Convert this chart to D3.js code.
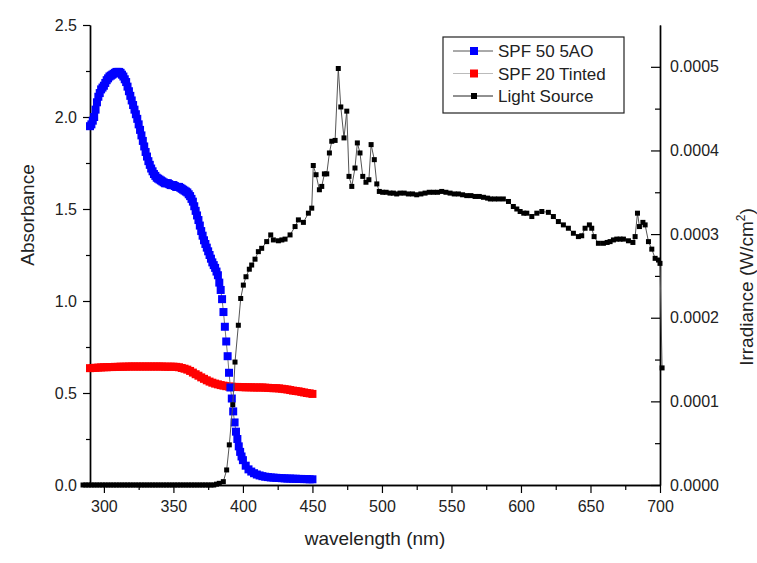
<!DOCTYPE html>
<html>
<head>
<meta charset="utf-8">
<script src="https://cdn.jsdelivr.net/npm/d3@7/dist/d3.min.js"></script>
<style>
    body { margin: 0; background: #fff; }
    text { font-family: "Liberation Sans", Arial, sans-serif; fill: #222; }
</style>
</head>
<body>
<div id="chart"></div>
<script>
// SPF 50 5AO (blue) - absorbance
const spf50Wavelength = [290,291,292,293,294,295,296,297,298,299,300,301,302,303,304,305,306,307,308,309,
    310,311,312,313,314,315,316,317,318,319,320,321,322,323,324,325,326,327,328,329,
    330,331,332,333,334,335,336,337,338,339,340,341,342,343,344,345,346,347,348,349,
    350,351,352,353,354,355,356,357,358,359,360,361,362,363,364,365,366,367,368,369,
    370,371,372,373,374,375,376,377,378,379,380,381,382,383,384,385,386,387,388,389,
    390,391,392,393,394,395,396,397,398,399,400,
    402,404,406,408,410,412,414,416,418,420,422,424,426,428,430,432,434,436,438,440,442,444,446,448,450];
const spf50Absorbance = [1.95,1.96,1.98,2.00,2.04,2.08,2.11,2.13,2.15,2.16,2.17,2.185,2.20,2.21,2.22,2.225,2.23,2.235,2.24,2.245,
    2.245,2.245,2.24,2.23,2.22,2.205,2.19,2.165,2.14,2.115,2.09,2.065,2.04,2.015,1.99,1.96,1.93,1.90,1.87,1.84,
    1.81,1.785,1.76,1.74,1.72,1.705,1.69,1.68,1.67,1.665,1.66,1.655,1.65,1.645,1.64,1.64,1.64,1.635,1.63,1.63,
    1.63,1.625,1.62,1.62,1.62,1.615,1.61,1.605,1.60,1.595,1.59,1.58,1.57,1.555,1.54,1.515,1.49,1.465,1.44,1.41,
    1.38,1.355,1.33,1.31,1.29,1.27,1.25,1.23,1.21,1.195,1.18,1.16,1.14,1.10,1.06,1.01,0.94,0.86,0.78,0.70,
    0.61,0.53,0.47,0.40,0.34,0.29,0.25,0.21,0.18,0.155,0.135,
    0.105,0.085,0.073,0.064,0.057,0.052,0.048,0.045,0.043,0.041,0.040,0.039,0.038,0.037,0.036,0.035,0.035,0.034,0.034,0.033,0.033,0.032,0.032,0.031,0.031];

// SPF 20 Tinted (red) - absorbance
const spf20Wavelength = [290,292,294,296,298,300,302,304,306,308,310,312,314,316,318,320,322,324,326,328,
    330,332,334,336,338,340,342,344,346,348,350,352,354,356,358,360,362,364,366,368,370,372,374,376,378,380,
    382,384,386,388,390,392,394,396,398,400,402,404,406,408,410,412,414,416,418,420,422,424,426,428,430,
    432,434,436,438,440,442,444,446,448,450];
const spf20Absorbance = [0.635,0.636,0.637,0.638,0.639,0.640,0.640,0.641,0.641,0.642,0.642,0.643,0.643,0.643,0.644,0.644,0.644,0.644,0.644,0.644,
    0.644,0.644,0.644,0.644,0.644,0.644,0.644,0.643,0.643,0.643,0.643,0.642,0.640,0.636,0.632,0.627,0.620,0.611,0.602,0.594,0.585,0.577,0.569,0.562,0.556,0.551,
    0.547,0.543,0.540,0.537,0.535,0.534,0.533,0.533,0.532,0.532,0.531,0.531,0.531,0.530,0.530,0.530,0.530,0.529,0.528,0.527,0.526,0.526,0.525,0.523,0.521,
    0.519,0.516,0.513,0.511,0.509,0.506,0.503,0.500,0.498,0.495];

// Light Source (black) - irradiance W/cm2
const lightWavelength = [285,287,289,291,293,295,297,299,301,303,305,307,309,311,313,315,317,319,321,323,
    325,327,329,331,333,335,337,339,341,343,345,347,349,351,353,355,357,359,361,363,365,367,369,371,373,375,377,379,381,383,
    385.9,388.3,390.2,392.7,394.3,396.7,398.4,400.3,402.2,404.6,406.3,408.7,411.1,413.5,417.1,420.0,421.9,425.5,428.0,430.3,
    433.9,437.5,439.9,443.5,447.1,449.5,450.6,452.6,455.0,456.7,458.6,460.3,462.2,463.9,466.3,468.6,470.4,472.7,474.7,476.3,
    478.3,480.6,482.3,484.2,486.2,488.5,490.6,492.2,494.5,496.3,498.1,500.5,503.0,505.8,508.2,510.6,513,516,519,522,
    525,528,531,534,537,540,543,546,549,552,555,558,561,564,567,570,573,576,578,581,
    584,587.3,591.0,594.5,597.0,599.4,602.0,604.2,607.8,611.4,615.0,619.7,623.3,626.9,630.5,634.1,637.7,641.3,643.7,646.1,
    649.2,650.9,652.6,655.7,659.3,662.0,664.1,666.5,668.9,671.3,673.7,677.3,680.5,682.1,683.8,685.2,687.7,689.3,691.7,694.1,
    696.5,698.9,700.0,701.5];
const lightIrradiance = [0,0,0,0,0,0,0,0,0,0,0,0,0,0,0,0,0,0,0,0,
    0,0,0,0,0,0,0,0,0,0,0,0,0,0,0,0,0,0,0,0,0,0,0,0,0,0,0,0,0.000001,0.000002,
    0.000004,0.000018,0.000048,0.000096,0.000147,0.000191,0.000223,0.000239,0.000249,0.000258,0.000263,0.000270,0.000279,0.000283,0.000291,0.000299,0.000293,0.000292,0.000293,0.000294,
    0.000299,0.000309,0.000317,0.000314,0.000325,0.000331,0.000382,0.000371,0.000353,0.000357,0.000372,0.000372,0.000397,0.000411,0.000412,0.000498,0.000452,0.000415,0.000447,0.000369,
    0.000357,0.000379,0.000409,0.000397,0.000369,0.000362,0.000365,0.000407,0.000389,0.000360,0.000351,0.000350,0.000350,0.000349,0.000349,0.000348,0.000349,0.000349,0.000348,0.000348,
    0.000347,0.000348,0.000349,0.000350,0.000350,0.000350,0.000351,0.000350,0.000349,0.000348,0.000348,0.000347,0.000346,0.000346,0.000345,0.000345,0.000344,0.000343,0.000342,0.000342,
    0.000342,0.000342,0.000339,0.000333,0.000330,0.000327,0.000325,0.000325,0.000321,0.000325,0.000327,0.000326,0.000321,0.000315,0.000311,0.000307,0.000301,0.000297,0.000298,0.000307,
    0.000311,0.000307,0.000297,0.000289,0.000289,0.000290,0.000291,0.000293,0.000294,0.000294,0.000294,0.000292,0.000290,0.000297,0.000325,0.000309,0.000314,0.000311,0.000291,0.000282,
    0.000271,0.000269,0.000265,0.000140];

// axis ticks
const xTicks = [300, 350, 400, 450, 500, 550, 600, 650, 700];
const xMinorTicks = [325, 375, 425, 475, 525, 575, 625, 675];
const absTicks = [0, 0.5, 1.0, 1.5, 2.0, 2.5];
const absMinorTicks = [0.25, 0.75, 1.25, 1.75, 2.25];
const irrTicks = [0, 0.0001, 0.0002, 0.0003, 0.0004, 0.0005];
const irrMinorTicks = [0.00005, 0.00015, 0.00025, 0.00035, 0.00045];

const legendLabels = ['SPF 50 5AO', 'SPF 20 Tinted', 'Light Source'];

function spectraChart(options) {
    let {
        parentId = 'chart',
        svgWidth = 757,
        svgHeight = 563,
        margin = {top: 25, right: 97, bottom: 78, left: 90}
    } = options;

    const width = svgWidth - margin.left - margin.right;
    const height = svgHeight - margin.top - margin.bottom;

    const svg = d3.select('#' + parentId).append('svg')
        .attr('width', svgWidth)
        .attr('height', svgHeight);

    const chartGroup = svg.append('g')
        .attr('transform', `translate(${margin.left},${margin.top})`);

    const xScale = d3.scaleLinear().domain([290, 700]).range([0, width]);
    const absScale = d3.scaleLinear().domain([0, 2.5]).range([height, 0]);
    const irrScale = d3.scaleLinear().domain([0, 0.00055]).range([height, 0]);

    // axes
    function styleAxis(g) {
        g.select('.domain').attr('stroke', '#000').attr('stroke-width', 1.4);
        g.selectAll('.tick line').attr('stroke', '#000').attr('stroke-width', 1.2);
        g.selectAll('.tick text').style('font-size', '16px').attr('fill', '#222');
    }

    chartGroup.append('g')
        .attr('transform', `translate(0,${height})`)
        .call(d3.axisBottom(xScale).tickValues(xMinorTicks).tickSize(5).tickFormat('').tickSizeOuter(0))
        .call(styleAxis);
    chartGroup.append('g')
        .attr('transform', `translate(0,${height})`)
        .call(d3.axisBottom(xScale).tickValues(xTicks).tickSize(8).tickPadding(8).tickSizeOuter(0))
        .call(styleAxis);

    chartGroup.append('g')
        .call(d3.axisLeft(absScale).tickValues(absMinorTicks).tickSize(4).tickFormat('').tickSizeOuter(0))
        .call(styleAxis);
    chartGroup.append('g')
        .call(d3.axisLeft(absScale).tickValues(absTicks).tickSize(7).tickPadding(6)
            .tickFormat(d3.format('.1f')).tickSizeOuter(0))
        .call(styleAxis);

    chartGroup.append('g')
        .attr('transform', `translate(${width},0)`)
        .call(d3.axisRight(irrScale).tickValues(irrMinorTicks).tickSize(-5).tickFormat('').tickSizeOuter(0))
        .call(styleAxis);
    chartGroup.append('g')
        .attr('transform', `translate(${width},0)`)
        .call(d3.axisRight(irrScale).tickValues(irrTicks).tickSize(-9).tickPadding(10)
            .tickFormat(d3.format('.4f')).tickSizeOuter(0))
        .call(styleAxis);

    // axis titles
    svg.append('text')
        .attr('transform', `translate(34,${margin.top + 190}) rotate(-90)`)
        .attr('text-anchor', 'middle')
        .style('font-size', '19px')
        .text('Absorbance');

    svg.append('text')
        .attr('x', margin.left + width / 2)
        .attr('y', 545)
        .attr('text-anchor', 'middle')
        .style('font-size', '19px')
        .text('wavelength (nm)');

    const irrTitle = svg.append('text')
        .attr('transform', `translate(753,${margin.top + 262}) rotate(-90)`)
        .attr('text-anchor', 'middle')
        .style('font-size', '19px');
    irrTitle.append('tspan').text('Irradiance (W/cm');
    irrTitle.append('tspan').attr('dy', -8).style('font-size', '12px').text('2');
    irrTitle.append('tspan').attr('dy', 8).text(')');

    // series
    function drawSeries(xs, ys, yScale, color, lineColor, size) {
        const pts = xs.map((x, i) => ({x: x, y: ys[i]}));
        const line = d3.line().x(d => xScale(d.x)).y(d => yScale(d.y));
        chartGroup.append('path')
            .datum(pts)
            .attr('fill', 'none')
            .attr('stroke', lineColor)
            .attr('stroke-width', 1)
            .attr('d', line);
        chartGroup.append('g').selectAll('rect')
            .data(pts)
            .enter()
            .append('rect')
            .attr('x', d => xScale(d.x) - size / 2)
            .attr('y', d => yScale(d.y) - size / 2)
            .attr('width', size)
            .attr('height', size)
            .attr('fill', color);
    }

    drawSeries(spf20Wavelength, spf20Absorbance, absScale, '#ff0000', '#bbbbbb', 8);
    drawSeries(spf50Wavelength, spf50Absorbance, absScale, '#0000ff', '#777777', 8);
    drawSeries(lightWavelength, lightIrradiance, irrScale, '#000000', '#555555', 5);

    // legend
    const legendColors = ['#0000ff', '#ff0000', '#000000'];
    const legendLines = ['#555555', '#bbbbbb', '#222222'];
    const legendSizes = [8, 8, 6];
    const legend = svg.append('g').attr('transform', 'translate(443,37)');
    legend.append('rect')
        .attr('width', 181)
        .attr('height', 76)
        .attr('fill', '#fff')
        .attr('stroke', '#222')
        .attr('stroke-width', 1.2);
    legendLabels.forEach((label, i) => {
        const y = 14 + i * 22.5;
        legend.append('line')
            .attr('x1', 10).attr('x2', 50)
            .attr('y1', y).attr('y2', y)
            .attr('stroke', legendLines[i])
            .attr('stroke-width', 1);
        legend.append('rect')
            .attr('x', 31 - legendSizes[i] / 2)
            .attr('y', y - legendSizes[i] / 2)
            .attr('width', legendSizes[i])
            .attr('height', legendSizes[i])
            .attr('fill', legendColors[i]);
        legend.append('text')
            .attr('x', 55)
            .attr('y', y + 6)
            .style('font-size', '17px')
            .text(label);
    });

    return {chart: svg};
}

spectraChart({parentId: 'chart'});
</script>
</body>
</html>
